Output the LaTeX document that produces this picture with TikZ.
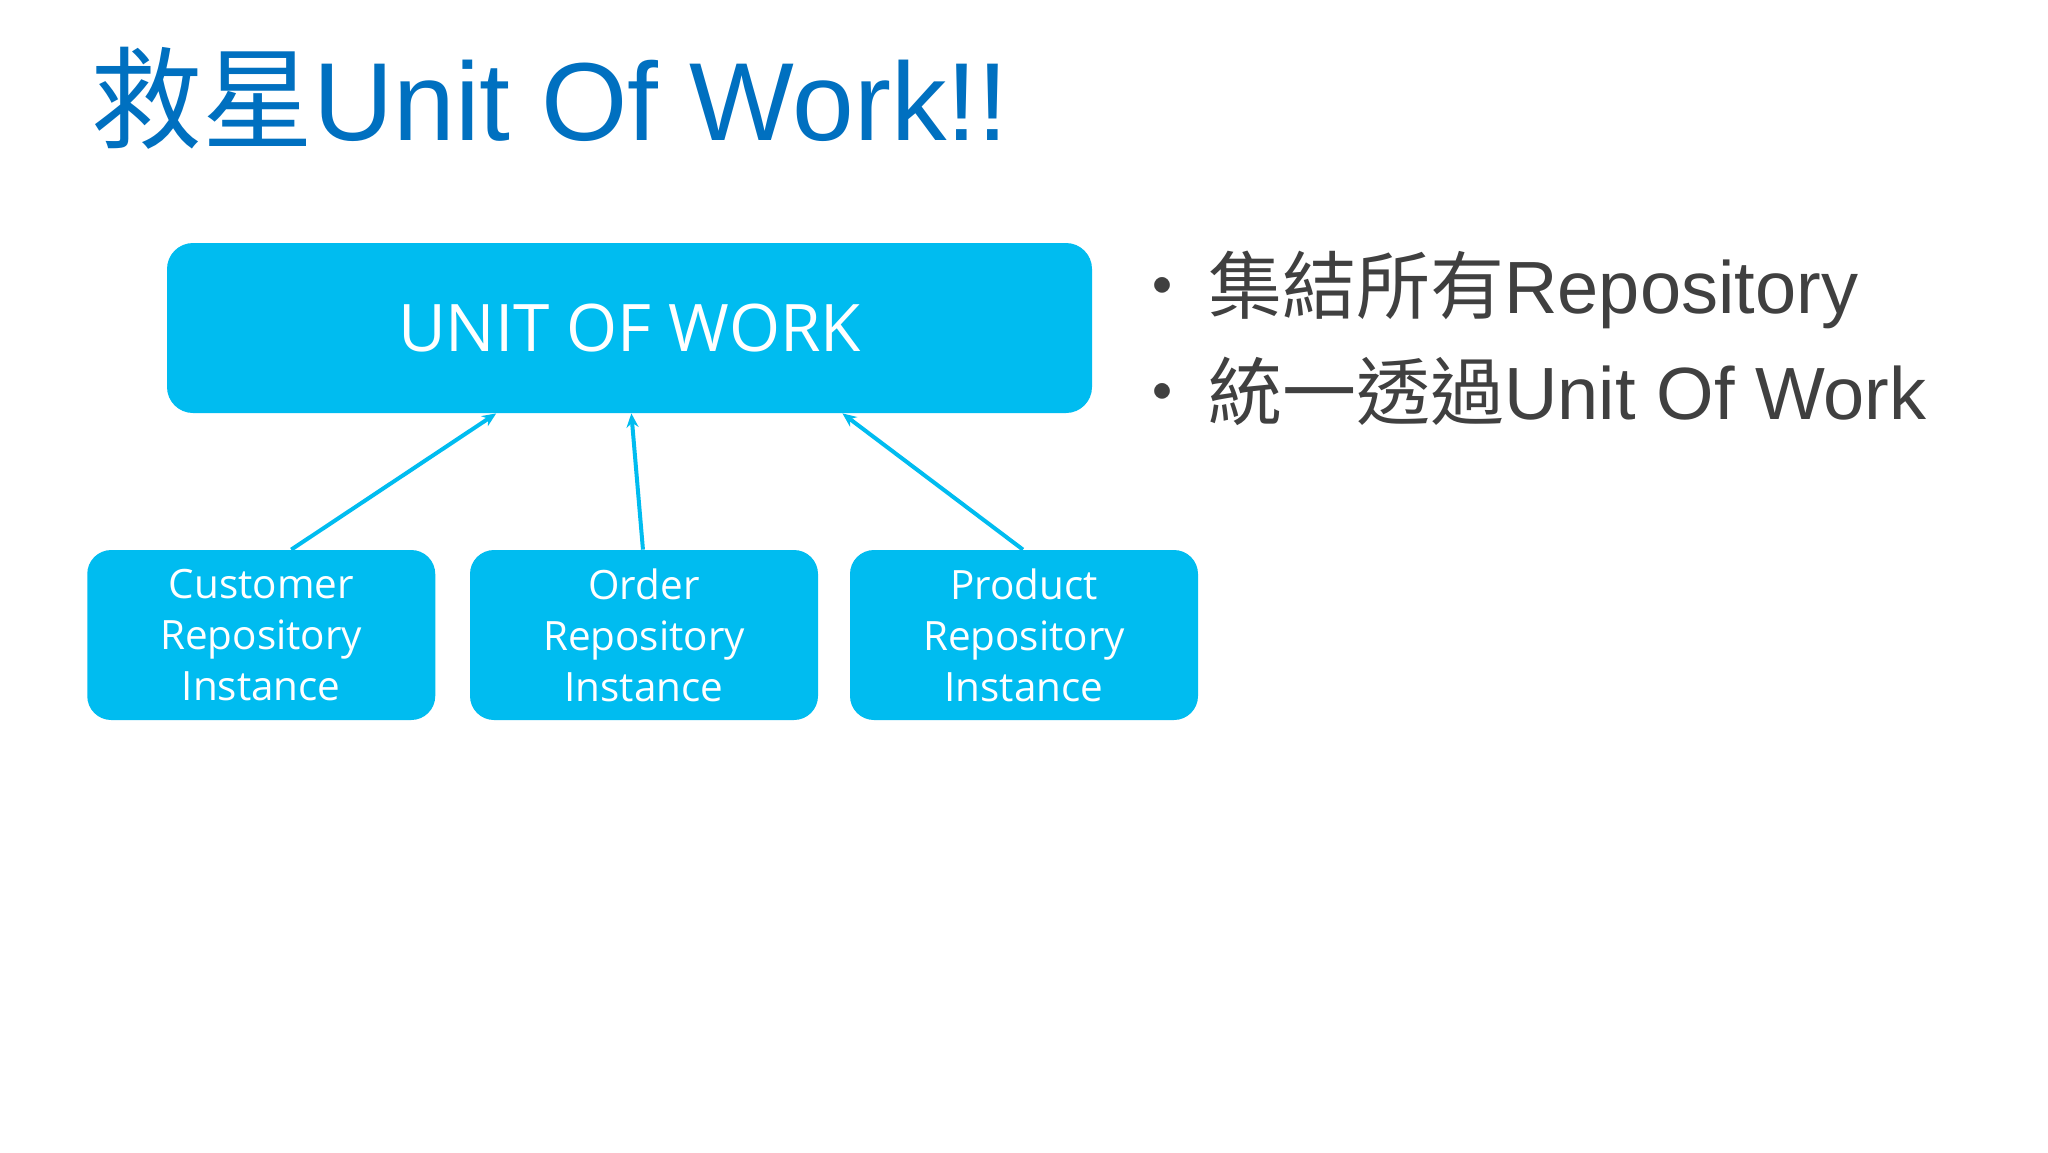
\documentclass[tikz,border=0pt]{standalone}
\usepackage{fontspec}
\usetikzlibrary{arrows.meta,calc}
\setmainfont{Liberation Sans}
\newfontfamily\cjk{Noto Sans CJK TC}
\newfontfamily\boxfont{Open Sans}
\definecolor{titleblue}{HTML}{0070C0}
\definecolor{boxcyan}{HTML}{00BCF0}
\definecolor{textgray}{HTML}{404040}
\tikzset{
  bigbox/.style={fill=boxcyan, draw=none, rounded corners=13pt, minimum width=462.5pt, minimum height=85pt, inner sep=0pt},
  smallbox/.style={fill=boxcyan, draw=none, rounded corners=12pt, minimum width=174pt, minimum height=85pt, inner sep=0pt, align=center, text=white, font=\boxfont\fontsize{20.2}{25.5}\selectfont},
  link/.style={draw=boxcyan, line width=2pt, -{Stealth[length=7pt,width=6pt]}},
  bullet/.style={anchor=base west, inner sep=0pt, text=textgray, font=\fontsize{37}{44}\selectfont}
}
\begin{document}
\begin{tikzpicture}[x=0.5pt,y=-0.5pt]
\useasboundingbox[fill=white] (0,0) rectangle (2048,1152);
% title
\node[anchor=base west, inner sep=0pt, text=titleblue, font=\fontsize{55.5}{66}\selectfont] (title) at (91,140) {{\cjk 救星}Unit Of Work!!};
% boxes
\node[bigbox] (uow) at (629.5,328) {};
\node[text=white, font=\boxfont\fontsize{32.8}{38}\selectfont, inner sep=0pt] (uowlabel) at (uow.center) {UNIT OF WORK};
\node[smallbox] (cust) at (261.25,635) {Customer\\Repository\\Instance};
\node[smallbox] (ord) at (644,635) {Order\\Repository\\Instance};
\node[smallbox] (prod) at (1024,635) {Product\\Repository\\Instance};
% connectors
\coordinate (c1) at ($(cust.north west)!0.586!(cust.north east)$);
\coordinate (c2) at ($(ord.north west)!0.497!(ord.north east)$);
\coordinate (c3) at ($(prod.north west)!0.497!(prod.north east)$);
\coordinate (u1) at ($(uow.south west)!0.356!(uow.south east)$);
\coordinate (u2) at ($(uow.south west)!0.502!(uow.south east)$);
\coordinate (u3) at ($(uow.south west)!0.730!(uow.south east)$);
\draw[link] (c1) -- (u1);
\draw[link] (c2) -- (u2);
\draw[link] (c3) -- (u3);
% bullets
\node[bullet] (d1) at (1125,313) {{\cjk ‧}};
\node[bullet] (b1) at (1208,313) {{\cjk 集結所有}Repository};
\node[bullet] (d2) at (1125,419) {{\cjk ‧}};
\node[bullet] (b2) at (1208,419) {{\cjk 統一透過}Unit Of Work};
\end{tikzpicture}
\end{document}
